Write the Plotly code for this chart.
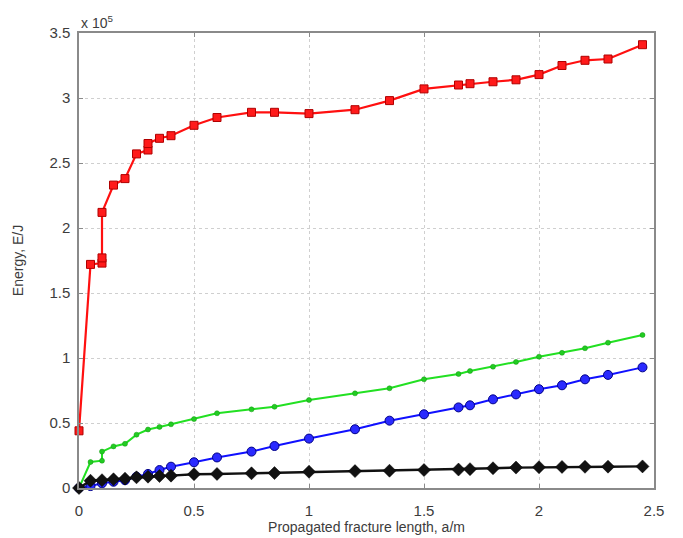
import plotly.graph_objects as go

# Energy values in units of 1e5 J against propagated fracture length (m)
x_red = [0, 0.05, 0.1, 0.1, 0.1, 0.15, 0.2, 0.25, 0.3, 0.3, 0.35, 0.4, 0.5, 0.6,
         0.75, 0.85, 1.0, 1.2, 1.35, 1.5, 1.65, 1.7, 1.8, 1.9, 2.0, 2.1, 2.2, 2.3, 2.45]
y_red = [0.44, 1.72, 1.73, 1.77, 2.12, 2.33, 2.38, 2.57, 2.60, 2.65, 2.69, 2.71, 2.79, 2.85,
         2.89, 2.89, 2.88, 2.91, 2.98, 3.07, 3.10, 3.11, 3.125, 3.14, 3.18, 3.25, 3.29, 3.30, 3.41]

x_green = [0, 0.05, 0.1, 0.1, 0.15, 0.2, 0.25, 0.3, 0.35, 0.4, 0.5, 0.6, 0.75, 0.85,
           1.0, 1.2, 1.35, 1.5, 1.65, 1.7, 1.8, 1.9, 2.0, 2.1, 2.2, 2.3, 2.45]
y_green = [0, 0.20, 0.21, 0.28, 0.32, 0.34, 0.41, 0.45, 0.47, 0.49, 0.53, 0.575, 0.605, 0.625,
           0.677, 0.728, 0.767, 0.836, 0.877, 0.90, 0.933, 0.97, 1.01, 1.04, 1.075, 1.118, 1.177]

x_blue = [0, 0.05, 0.1, 0.15, 0.2, 0.25, 0.3, 0.35, 0.4, 0.5, 0.6, 0.75, 0.85, 1.0,
          1.2, 1.35, 1.5, 1.65, 1.7, 1.8, 1.9, 2.0, 2.1, 2.2, 2.3, 2.45]
y_blue = [0, 0.015, 0.036, 0.048, 0.06, 0.087, 0.108, 0.138, 0.164, 0.198, 0.235, 0.28, 0.323, 0.38,
          0.452, 0.518, 0.567, 0.62, 0.636, 0.682, 0.72, 0.76, 0.79, 0.836, 0.87, 0.928]

x_black = x_blue
y_black = [0, 0.056, 0.06, 0.067, 0.072, 0.082, 0.087, 0.092, 0.095, 0.106, 0.108, 0.113, 0.115, 0.125,
           0.13, 0.133, 0.138, 0.142, 0.145, 0.152, 0.157, 0.16, 0.162, 0.163, 0.164, 0.166]

x_ticks = [0, 0.5, 1, 1.5, 2, 2.5]
x_tick_labels = ["0", "0.5", "1", "1.5", "2", "2.5"]
y_ticks = [0, 0.5, 1, 1.5, 2, 2.5, 3, 3.5]
y_tick_labels = ["0", "0.5", "1", "1.5", "2", "2.5", "3", "3.5"]

FONT = "Liberation Sans, Arial, sans-serif"
TXT = "#3c3c3c"

fig = go.Figure()

fig.add_trace(go.Scatter(
    x=x_red, y=y_red, mode="lines+markers",
    line=dict(color="#ff1010", width=2.2),
    marker=dict(symbol="square", size=8, color="#ff1a1a", line=dict(color="#b00000", width=1)),
    cliponaxis=False))
fig.add_trace(go.Scatter(
    x=x_green, y=y_green, mode="lines+markers",
    line=dict(color="#22e022", width=2),
    marker=dict(symbol="circle", size=5, color="#22cc22", line=dict(color="#119911", width=0.5)),
    cliponaxis=False))
fig.add_trace(go.Scatter(
    x=x_blue, y=y_blue, mode="lines+markers",
    line=dict(color="#1010ff", width=2),
    marker=dict(symbol="circle", size=9, color="#2a2aff", line=dict(color="#000088", width=1)),
    cliponaxis=False))
fig.add_trace(go.Scatter(
    x=x_black, y=y_black, mode="lines+markers",
    line=dict(color="#111111", width=2.4),
    marker=dict(symbol="diamond", size=10, color="#111111", line=dict(color="#000000", width=0.5)),
    cliponaxis=False))

axis_common = dict(
    showline=True, linecolor="#8a8a8a", linewidth=1.5, mirror="ticks",
    ticks="inside", ticklen=4, tickcolor="#8a8a8a",
    showgrid=True, gridcolor="#cfcfcf", griddash="dot", gridwidth=1,
    zeroline=False, automargin=False,
    tickfont=dict(family=FONT, size=15, color=TXT),
)

fig.update_xaxes(range=[0, 2.5], tickvals=x_ticks, ticktext=x_tick_labels,
                 ticklabelstandoff=8,
                 title=dict(text="Propagated fracture length, a/m", standoff=2,
                            font=dict(family=FONT, size=14, color=TXT)),
                 **axis_common)
fig.update_yaxes(range=[0, 3.5], tickvals=y_ticks, ticktext=y_tick_labels,
                 ticklabelstandoff=4,
                 title=dict(text="Energy, E/J", standoff=22,
                            font=dict(family=FONT, size=14, color=TXT)),
                 **axis_common)

fig.add_annotation(text="x 10<sup>5</sup>", xref="paper", yref="paper", x=0, y=1,
                   xanchor="left", yanchor="bottom", showarrow=False,
                   font=dict(family=FONT, size=14, color=TXT))

fig.update_layout(
    width=683, height=538, showlegend=False,
    margin=dict(l=79, r=29, t=33, b=50),
    paper_bgcolor="white", plot_bgcolor="white",
)

fig.write_html("out.html")
